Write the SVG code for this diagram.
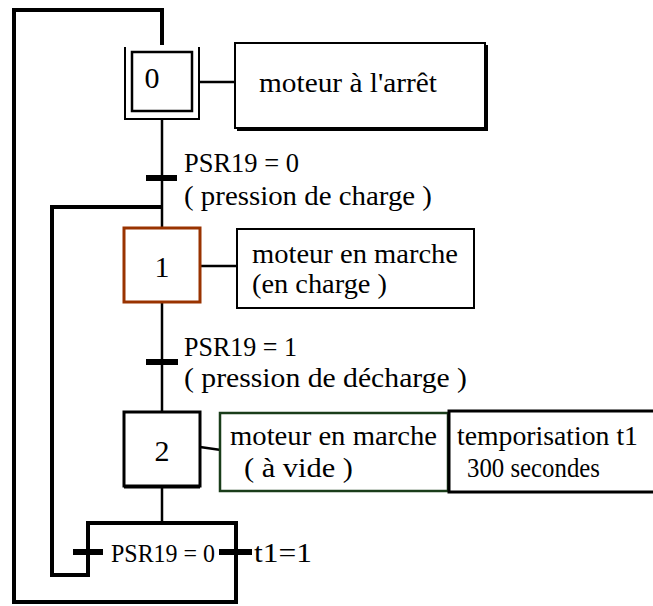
<svg xmlns="http://www.w3.org/2000/svg" width="653" height="606" viewBox="0 0 653 606">
<defs>
<style>
.ln{fill:none;stroke:#000;stroke-width:3}
.thick{fill:none;stroke:#000;stroke-width:4}
.link{fill:none;stroke:#000;stroke-width:2.5}
.bar{fill:#000}
.act{fill:#fff;stroke:#000;stroke-width:2}
.sh{fill:none;stroke:#000;stroke-width:4}
</style>
</defs>
<rect width="653" height="606" fill="#fff"/>
<g id="connectors">
<path class="thick" d="M162 45 V10 H14 V602 H236 V523 H88 V575 H52 V207 H162"/>
<path class="link" d="M162 119 V228 M162 302 V412 M162 486 V523"/>
<path class="link" d="M199 82 H235 M200 266 H237 M200 447 L221 450"/>
</g>
<g font-family="'Liberation Serif', 'DejaVu Serif', 'Times New Roman', serif" font-size="28" fill="#000">
<g id="step0">
<path fill="none" stroke="#000" stroke-width="2" d="M125 47 V119 H199 V47"/>
<rect x="132" y="52" width="60" height="59" fill="#fff" stroke="#000" stroke-width="2.5"/>
<text x="152" y="88" text-anchor="middle" font-size="30">0</text>
</g>
<g id="action0">
<rect class="act" x="235" y="43" width="250" height="85"/>
<path class="sh" d="M237 129 H486 V45"/>
<text x="259" y="92" textLength="178" lengthAdjust="spacingAndGlyphs">moteur à l'arrêt</text>
</g>
<g id="t0">
<rect class="bar" x="146" y="175" width="31" height="6"/>
<text x="184" y="172" textLength="115" lengthAdjust="spacingAndGlyphs">PSR19 = 0</text>
<text x="184" y="205" textLength="248" lengthAdjust="spacingAndGlyphs">( pression de charge )</text>
</g>
<g id="step1">
<rect x="124" y="228" width="76" height="74" fill="#fff" stroke="#993300" stroke-width="3"/>
<text x="162" y="277" text-anchor="middle" font-size="30">1</text>
</g>
<g id="action1">
<rect class="act" x="237" y="229" width="237" height="79"/>
<text x="252" y="263" textLength="206" lengthAdjust="spacingAndGlyphs">moteur en marche</text>
<text x="252" y="293" textLength="135" lengthAdjust="spacingAndGlyphs">(en charge )</text>
</g>
<g id="t1">
<rect class="bar" x="146" y="359" width="32" height="6"/>
<text x="184" y="356" textLength="113" lengthAdjust="spacingAndGlyphs">PSR19 = 1</text>
<text x="184" y="387" textLength="283" lengthAdjust="spacingAndGlyphs">( pression de décharge )</text>
</g>
<g id="step2">
<rect x="124" y="412" width="76" height="74" fill="#fff" stroke="#000" stroke-width="3"/>
<path class="ln" d="M124 487 H200"/>
<text x="162" y="461" text-anchor="middle" font-size="30">2</text>
</g>
<g id="action2">
<rect x="220" y="413" width="228" height="78" fill="#fff" stroke="#1a3d1a" stroke-width="2.5"/>
<text x="230" y="445" textLength="207" lengthAdjust="spacingAndGlyphs">moteur en marche</text>
<text x="244" y="477" textLength="109" lengthAdjust="spacingAndGlyphs">( à vide )</text>
</g>
<g id="action3">
<rect x="449" y="411" width="210" height="81" fill="#fff" stroke="#000" stroke-width="3"/>
<text x="457" y="445" textLength="181" lengthAdjust="spacingAndGlyphs">temporisation t1</text>
<text x="467" y="477" textLength="133" lengthAdjust="spacingAndGlyphs">300 secondes</text>
</g>
<g id="t2">
<rect class="bar" x="73" y="549" width="30" height="6"/>
<rect class="bar" x="219" y="549" width="33" height="6"/>
<text x="111" y="562" font-size="25" textLength="104" lengthAdjust="spacingAndGlyphs">PSR19 = 0</text>
<text x="254" y="562" textLength="58" lengthAdjust="spacingAndGlyphs">t1=1</text>
</g>
</g>
</svg>
